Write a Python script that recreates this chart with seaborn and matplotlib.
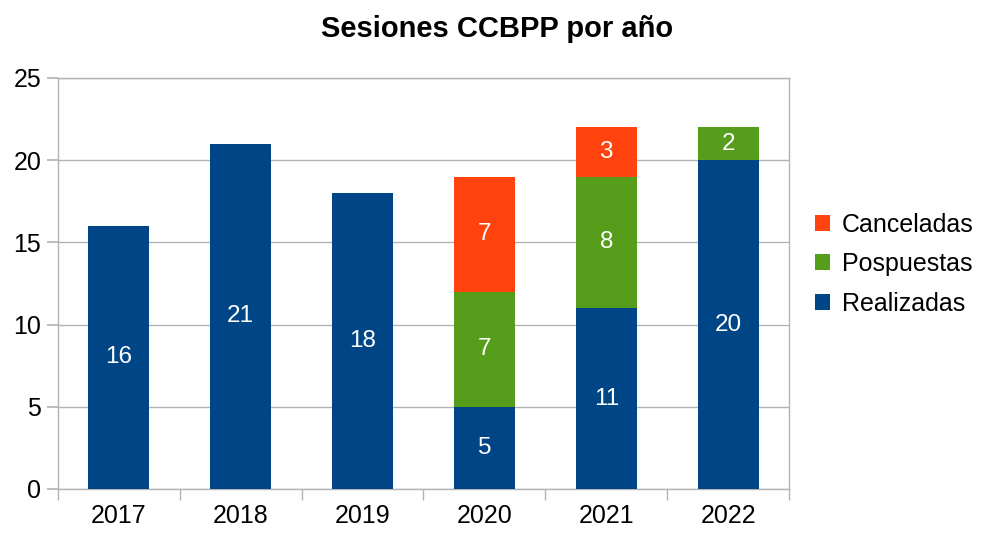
import seaborn as sns
import pandas as pd
import matplotlib.pyplot as plt

sns.set_theme(style="white")
plt.rcParams['font.family'] = ['Liberation Sans', 'DejaVu Sans']
plt.rcParams['text.color'] = 'black'

# data
years = ['2017', '2018', '2019', '2020', '2021', '2022']
realizadas = [16, 21, 18, 5, 11, 20]
pospuestas = [0, 0, 0, 7, 8, 2]
canceladas = [0, 0, 0, 7, 3, 0]

colors = {'Realizadas': '#004586', 'Pospuestas': '#579d1c', 'Canceladas': '#ff420e'}

df = pd.DataFrame({'year': years, 'Realizadas': realizadas,
                   'Pospuestas': pospuestas, 'Canceladas': canceladas})
df['c1'] = df['Realizadas']
df['c2'] = df['c1'] + df['Pospuestas']
df['c3'] = df['c2'] + df['Canceladas']

fig = plt.figure(figsize=(9.81, 5.36), dpi=100)
ax = fig.add_axes([0.0591, 0.0877, 0.7452, 0.7668])

# overlapping cumulative bars (top layer first)
for col, name in [('c3', 'Canceladas'), ('c2', 'Pospuestas'), ('c1', 'Realizadas')]:
    sns.barplot(data=df, x='year', y=col, color=colors[name], width=0.5,
                saturation=1, ax=ax, label=name, zorder=3, linewidth=0)

# value labels in the middle of each segment
for i, row in df.iterrows():
    base = 0
    for name in ['Realizadas', 'Pospuestas', 'Canceladas']:
        v = row[name]
        if v > 0:
            ax.text(i, base + v / 2, str(v), ha='center', va='center',
                    color='white', fontsize=17.5, zorder=5)
        base += v

ax.set_ylim(0, 25)
ax.set_xlim(-0.5, 5.5)
ax.set_yticks(range(0, 26, 5))
ax.set_xlabel('')
ax.set_ylabel('')
ax.yaxis.grid(True, color='#b3b3b3', linewidth=1)
ax.xaxis.grid(False)
ax.set_axisbelow(True)
for s in ax.spines.values():
    s.set_color('#b3b3b3')
    s.set_linewidth(1)

ax.set_xticks([x - 0.5 for x in range(7)], minor=True)
ax.tick_params(axis='x', which='major', length=0, labelsize=18, pad=11, colors='black')
ax.tick_params(axis='x', which='minor', length=8, color='#b3b3b3', bottom=True)
ax.tick_params(axis='y', length=8, color='#b3b3b3', labelsize=18, left=True, pad=4,
               labelcolor='black')

handles, labels = ax.get_legend_handles_labels()
ax.legend(handles, labels, loc='center left', bbox_to_anchor=(1.036, 0.547),
          frameon=False, fontsize=18, handlelength=0.6, handleheight=0.6,
          handletextpad=0.45, labelspacing=0.62, borderpad=0, borderaxespad=0)

fig.text(0.507, 0.946, 'Sesiones CCBPP por año', ha='center', va='center',
         fontsize=21, fontweight='bold', color='black')

fig.savefig('out.png', dpi=100)
